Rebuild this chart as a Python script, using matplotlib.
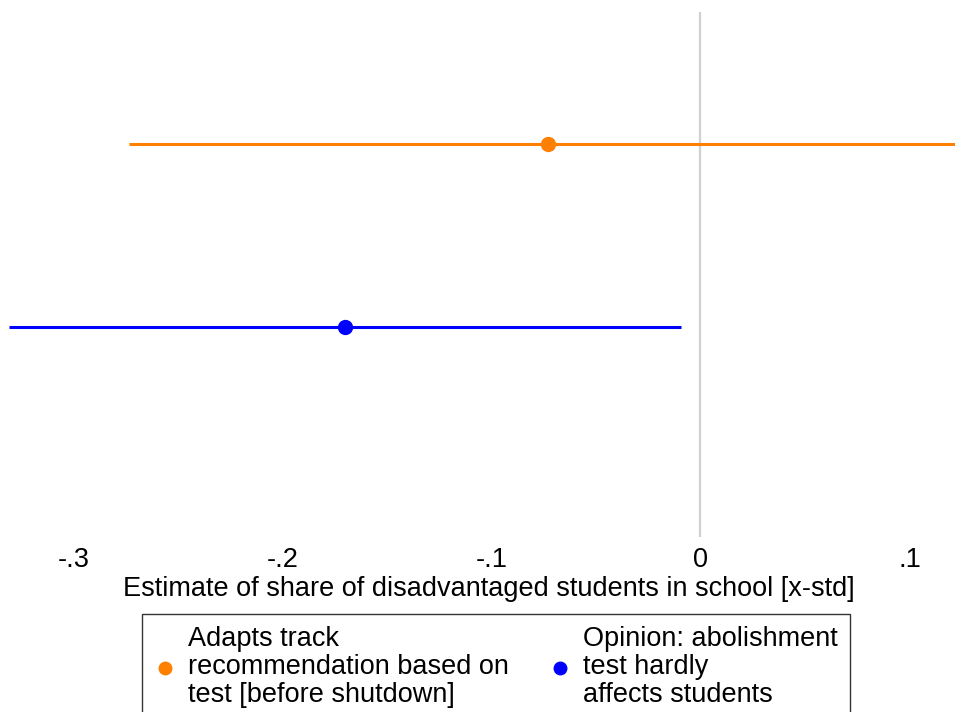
import matplotlib
matplotlib.use("Agg")
import matplotlib.pyplot as plt
from matplotlib.lines import Line2D

plt.rcParams['font.family'] = ['Liberation Sans', 'DejaVu Sans']

labels = ["Adapts track\nrecommendation based on\ntest [before shutdown]",
          "Opinion: abolishment\ntest hardly\naffects students"]
estimates = [-0.0728, -0.170]
ci_low = [-0.2735, -0.3307]
ci_high = [0.135, -0.0095]
colors = ["#FF7F00", "#0000FF"]
ypos = [2, 1]
xticks = [-0.3, -0.2, -0.1, 0, 0.1]
xticklabels = ["-.3", "-.2", "-.1", "0", ".1"]
xlabel = "Estimate of share of disadvantaged students in school [x-std]"

FS = 19.5
fig = plt.figure(figsize=(9.55, 7.12), dpi=100)
H = 712.0
ax = fig.add_axes([0.0, (H - 537) / H, 1.0, (537 - 12) / H])

ax.axvline(0, color="#d0d0d0", lw=1.6, zorder=1)
handles = []
for est, lo, hi, c, y, lab in zip(estimates, ci_low, ci_high, colors, ypos, labels):
    ax.plot([lo, hi], [y, y], color=c, lw=2.2, solid_capstyle='butt', zorder=2)
    ax.plot([est], [y], marker='o', color=c, markersize=10, zorder=3, linestyle='none')
    handles.append(Line2D([], [], marker='o', color=c, linestyle='none', markersize=9, label=lab))

ax.set_xlim(-0.3352, 0.1218)
ax.set_ylim(-0.148, 2.721)
ax.set_yticks([])
ax.set_xticks(xticks)
ax.set_xticklabels(xticklabels, fontsize=FS)
ax.tick_params(axis='x', length=0, pad=7)
ax.set_xlabel(xlabel, fontsize=FS, labelpad=2)
ax.xaxis.set_label_coords(489 / 955, -0.075)
for s in ax.spines.values():
    s.set_visible(False)

leg = fig.legend(handles=handles, loc='upper center', bbox_to_anchor=(496 / 955, 1 - 614 / H),
                 ncol=2, fontsize=FS, frameon=True, fancybox=False, edgecolor='black',
                 handlelength=0.8, handletextpad=0.45, columnspacing=1.5,
                 borderpad=0.45, labelspacing=0.2, borderaxespad=0)
for t in leg.get_texts():
    t.set_linespacing(1.1)
leg.get_frame().set_linewidth(1.0)

fig.savefig("out.png", dpi=100)
